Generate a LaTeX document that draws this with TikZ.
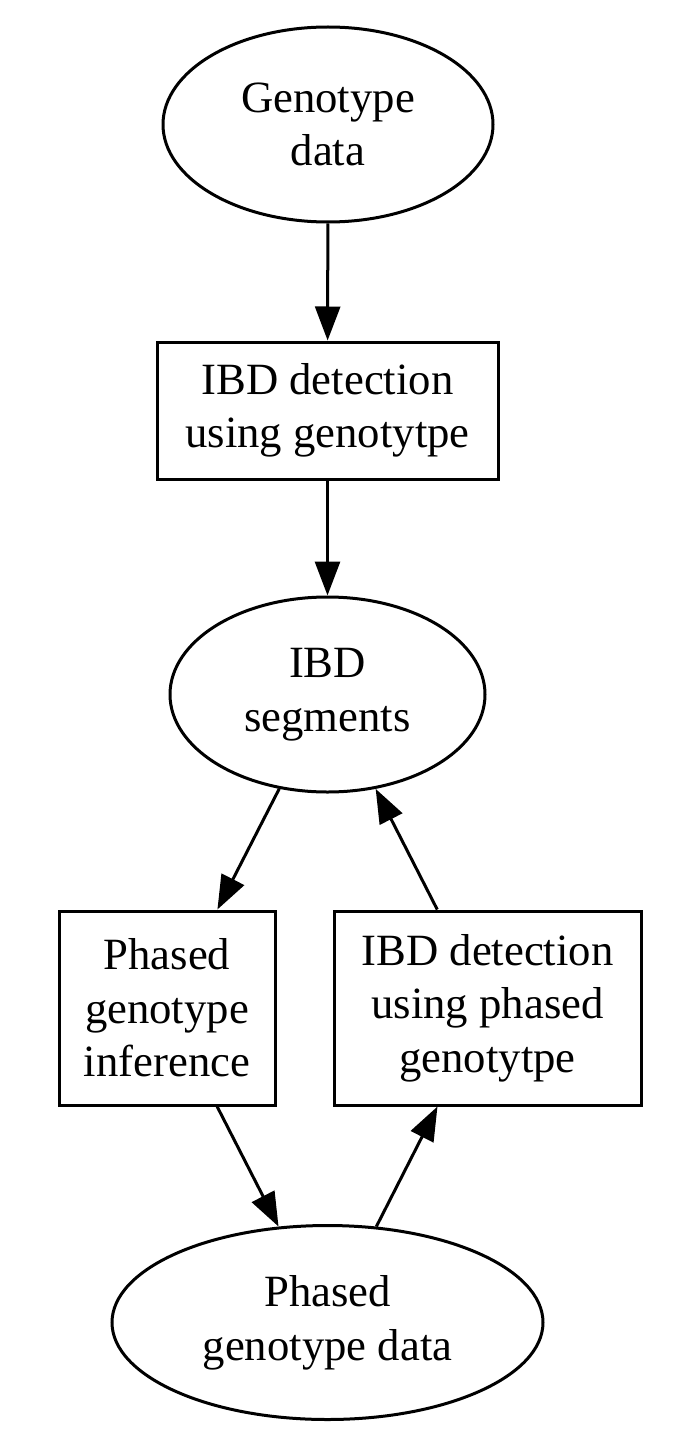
\documentclass[tikz,border=0pt]{standalone}
\usepackage{fontspec}
\setmainfont{Liberation Serif}
\usetikzlibrary{shapes.geometric,arrows.meta}
\begin{document}
\begin{tikzpicture}[x=1pt,y=-1pt,
  base/.style={draw=black,line width=3pt,inner sep=0pt,align=center,
    font=\fontsize{44.7}{53.6}\selectfont},
  ell/.style={base,ellipse},
  boxnode/.style={base,rectangle},
  edge/.style={draw=black,line width=3pt,-{Triangle[length=34pt,width=25pt]}}]
\fill[white] (0,0) rectangle (685,1455);
\useasboundingbox (0,0) rectangle (685,1455);
\node[ell,minimum width=330pt,minimum height=195pt] (gd) at (328,124.5) {Genotype\\data};
\node[boxnode,minimum width=341pt,minimum height=137pt] (ibd1) at (327.5,410.5) {IBD detection\\using genotytpe};
\node[ell,minimum width=315pt,minimum height=195pt] (seg) at (327.5,694.5) {IBD\\segments};
\node[boxnode,minimum width=216pt,minimum height=194pt] (phin) at (167,1008) {Phased\\genotype\\inference};
\node[boxnode,minimum width=307pt,minimum height=194pt] (ibd2) at (487.5,1008) {IBD detection\\using phased\\genotytpe};
\node[ell,minimum width=431pt,minimum height=194pt] (pgd) at (327.5,1322.5) {Phased\\genotype data};
\draw[edge] (gd) -- (ibd1);
\draw[edge] (ibd1) -- (seg);
\draw[edge] (seg) -- (phin);
\draw[edge] (ibd2) -- (seg);
\draw[edge] (phin) -- (pgd);
\draw[edge] (pgd) -- (ibd2);
\end{tikzpicture}
\end{document}
